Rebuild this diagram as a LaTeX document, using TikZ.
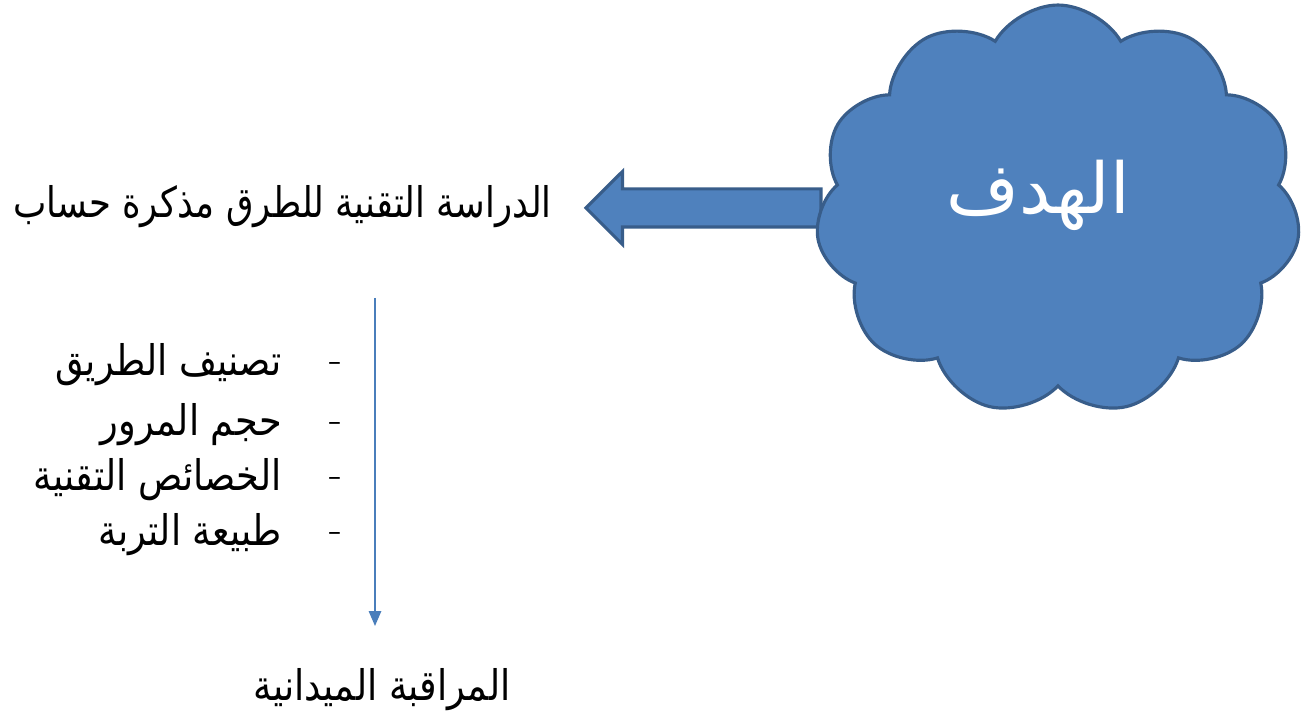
\documentclass[tikz,border=0pt]{standalone}
\usepackage{fontspec}
\usepackage{xcolor}
\usepackage{tikz}
\usetikzlibrary{shapes.symbols,shapes.arrows,arrows.meta,positioning,calc}
\newfontfamily\arabicfont[Script=Arabic,FakeStretch=0.87]{DejaVu Sans}
\newfontfamily\titlefont[Script=Arabic,FakeStretch=0.84]{DejaVu Sans}
\newfontfamily\goalfont[Script=Arabic]{DejaVu Sans}
\TeXXeTstate=1
\definecolor{cloudfill}{HTML}{4F81BD}
\definecolor{cloudline}{HTML}{385D8A}
\definecolor{lineblue}{HTML}{4A7EBB}

\begin{document}
\begin{tikzpicture}[x=0.02cm, y=-0.02cm,
  goal/.style={cloud, cloud puffs=11, cloud puff arc=120, aspect=1.2,
               fill=cloudfill, draw=cloudline, line width=1.8pt,
               minimum width=9.7cm, minimum height=8.2cm},
  goaltxt/.style={text=white, inner sep=0pt,
                  font=\goalfont\fontsize{40}{46}\selectfont},
  bigarrow/.style={single arrow, shape border rotate=180, fill=cloudfill,
                   draw=cloudline, line width=1.8pt, minimum width=1.4cm,
                   minimum height=4.7cm, single arrow head extend=0.35cm,
                   text height=0.35cm, text depth=0.35cm, inner sep=0pt},
  txt/.style={font=\arabicfont\fontsize{24}{28}\selectfont, inner sep=0pt},
  titletxt/.style={font=\titlefont\fontsize{24}{28}\selectfont, inner sep=0pt},
  dashmark/.style={font=\fontsize{24}{28}\selectfont, inner sep=0pt},
  arr/.style={-{Triangle[length=0.3cm,width=0.25cm]}, draw=lineblue, line width=0.9pt}
]
  \useasboundingbox (0,0) rectangle (1305,715);

  \node[bigarrow] (toptr) at (713,208) {};
  \node[goal] (goal) at (1058,210) {};
  \node[goaltxt] (goallbl) at (1038,195) {\beginR الهدف\endR};
  \node[titletxt, anchor=east] (study) at (552,207) {\beginR الدراسة التقنية للطرق مذكرة حساب\endR};

  \node[txt, anchor=east] (it1) at (282,365) {\beginR تصنيف الطريق\endR};
  \node[txt, anchor=east] (it2) at (282,425) {\beginR حجم المرور\endR};
  \node[txt, anchor=east] (it3) at (282,480) {\beginR الخصائص التقنية\endR};
  \node[txt, anchor=east] (it4) at (282,535) {\beginR طبيعة التربة\endR};
  \foreach \y/\n in {368/1,428/2,483/3,538/4}
    \node[dashmark] (d\n) at (336,\y) {-};

  \node[txt] (field) at (382,690) {\beginR المراقبة الميدانية\endR};

  \coordinate (ltop) at (375,298);
  \coordinate (lend) at (375,626);
  \draw[arr] (ltop) -- (lend);
\end{tikzpicture}
\end{document}
